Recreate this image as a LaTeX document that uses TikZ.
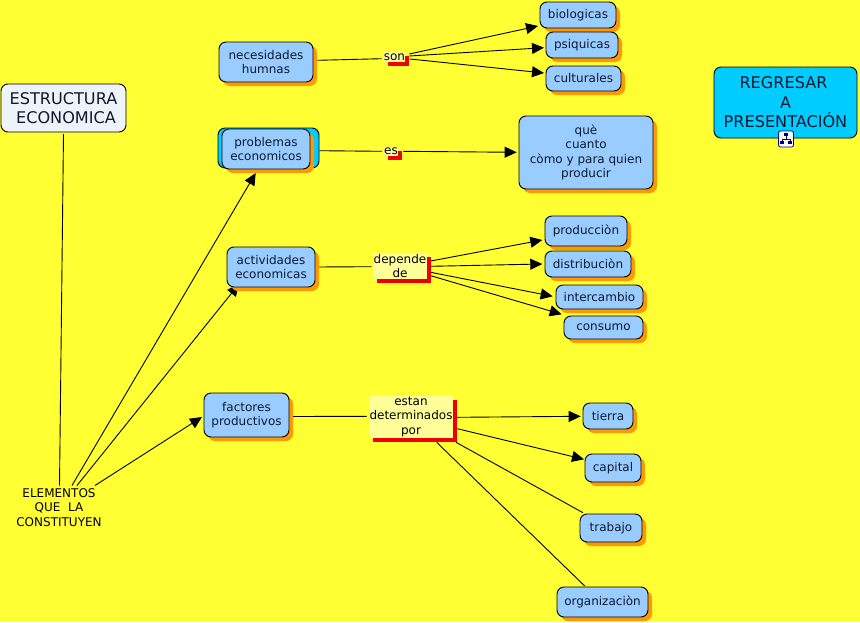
\documentclass[tikz,border=0pt]{standalone}
\usepackage{fontspec}
\setmainfont{DejaVu Sans}
\usetikzlibrary{arrows.meta,shadows}
\definecolor{bgyellow}{HTML}{FFFF33}
\definecolor{cblue}{HTML}{99CCFF}
\definecolor{corange}{HTML}{FF9900}
\definecolor{ccyan}{HTML}{00CCFF}
\definecolor{cpale}{HTML}{FFFF99}
\definecolor{cred}{HTML}{EE0000}
\definecolor{cwhite}{HTML}{EDF3F8}
\definecolor{ctext}{HTML}{101830}
\pgfdeclarelayer{bglayer}
\pgfdeclarelayer{linelayer}
\pgfsetlayers{bglayer,linelayer,main}
\tikzset{
  base/.style={align=center,inner sep=0pt,text=ctext,font=\fontsize{12}{14.5}\selectfont},
  concept/.style={base,draw=black,line width=0.9pt,fill=cblue,rounded corners=7pt,
    general shadow={shadow xshift=4pt,shadow yshift=-4pt,fill=corange,opacity=1}},
  topbox/.style={base,draw=black,line width=0.9pt,rounded corners=7pt,font=\fontsize{16.1}{19.5}\selectfont},
  phrase/.style={base,fill=cpale,text=black,
    general shadow={shadow xshift=4pt,shadow yshift=-4pt,fill=cred,opacity=1}},
  conn/.style={draw=black,line width=0.9pt},
  arr/.style={conn,-{Triangle[length=12pt,width=11pt]}}
}
\begin{document}
\begin{tikzpicture}[x=1pt,y=-1pt]
\begin{pgfonlayer}{bglayer}
\fill[bgyellow] (0,0) rectangle (860,622);
\end{pgfonlayer}
\useasboundingbox (0,0) rectangle (860,622);

\node[topbox,fill=cwhite,minimum width=125pt,minimum height=48pt] (est) at (63.5,108) {ESTRUCTURA\\\hspace*{5pt}ECONOMICA};
\node[topbox,fill=ccyan,minimum width=143pt,minimum height=71pt] (reg) at (785.5,102.5) {REGRESAR\hspace*{4pt}\\A\\PRESENTACIÓN};
\node[base,text=black] (el) at (59,507.5) {ELEMENTOS\\QUE\ \ LA\\CONSTITUYEN};

\node[draw=black,line width=0.9pt,fill=ccyan,rounded corners=7pt,minimum width=101pt,minimum height=40pt] (probback) at (268.5,148) {};
\node[concept,minimum width=88pt,minimum height=40pt] (prob) at (266,149) {problemas\\economicos};
\node[concept,minimum width=94pt,minimum height=40pt] (nec) at (266,62) {necesidades\\humnas};
\node[concept,minimum width=88pt,minimum height=40pt] (act) at (271,267) {actividades\\economicas};
\node[concept,minimum width=85pt,minimum height=44pt] (fac) at (246.5,415) {factores\\productivos};

\node[concept,minimum width=76pt,minimum height=26pt] (bio) at (578,15) {biologicas};
\node[concept,minimum width=72pt,minimum height=26pt] (psi) at (582,45) {psiquicas};
\node[concept,minimum width=75pt,minimum height=25pt] (cul) at (583.5,78.5) {culturales};
\node[concept,minimum width=134pt,minimum height=73pt] (que) at (586,152.5) {què\\cuanto\\còmo y para quien\\producir};
\node[concept,minimum width=82pt,minimum height=30pt] (pro) at (586,231) {producciòn};
\node[concept,minimum width=86pt,minimum height=26pt] (dis) at (588,264) {distribuciòn};
\node[concept,minimum width=87pt,minimum height=24pt] (int) at (599.5,297) {intercambio};
\node[concept,minimum width=79pt,minimum height=23pt] (con) at (603.5,327.5) {consumo};
\node[concept,minimum width=50pt,minimum height=26pt] (tie) at (608,416) {tierra};
\node[concept,minimum width=56pt,minimum height=28pt] (cap) at (613,468) {capital};
\node[concept,minimum width=62pt,minimum height=28pt] (tra) at (611,528) {trabajo};
\node[concept,minimum width=91pt,minimum height=30pt] (org) at (602.5,602) {organizaciòn};

\node[phrase,minimum width=21pt,minimum height=10pt] (son) at (394.5,57) {son};
\node[phrase,minimum width=14pt,minimum height=9pt] (es) at (391,151.5) {es};
\node[phrase,minimum width=54pt,minimum height=26pt] (dep) at (400,266) {depende\\de};
\node[phrase,minimum width=84pt,minimum height=42pt] (det) at (411,417) {estan\\determinados\\por};

% icon
\node[draw=blue!60!black,fill=white,rounded corners=2pt,line width=0.8pt,minimum width=15pt,minimum height=16pt,inner sep=0pt] (icon) at (786,139) {};
\fill[blue!45!black] ([shift={(-2,-6)}]icon.center) rectangle ([shift={(2,-3)}]icon.center);
\fill[blue!45!black] ([shift={(-6,2)}]icon.center) rectangle ([shift={(-2,5)}]icon.center);
\fill[blue!45!black] ([shift={(2,2)}]icon.center) rectangle ([shift={(6,5)}]icon.center);
\draw[blue!45!black,line width=0.6pt] ([shift={(0,-3)}]icon.center) -- ([shift={(0,0)}]icon.center) ([shift={(-4,2)}]icon.center) -- ([shift={(-4,0)}]icon.center) -- ([shift={(4,0)}]icon.center) -- ([shift={(4,2)}]icon.center);

\begin{pgfonlayer}{linelayer}
\draw[conn] ([shift={(0,26)}]est.center) -- ([shift={(0.5,-22)}]el.center);
\draw[arr] ([shift={(13,-22)}]el.center) -- ([shift={(-10.3,24)}]prob.center);
\draw[arr] ([shift={(18,-22)}]el.center) -- ([shift={(-32,17)}]act.center);
\draw[arr] ([shift={(36,-22)}]el.center) -- ([shift={(-44.5,2)}]fac.center);

\draw[conn] ([shift={(51.3,-1.7)}]nec.center) -- ([shift={(-12.8,1.7)}]son.center);
\draw[arr] ([shift={(14.8,-3)}]son.center) -- ([shift={(-40,11)}]bio.center);
\draw[arr] ([shift={(14.8,-1)}]son.center) -- ([shift={(-38,2.7)}]psi.center);
\draw[arr] ([shift={(15.5,2)}]son.center) -- ([shift={(-39.5,-5.5)}]cul.center);

\draw[conn] ([shift={(53.3,1.7)}]prob.center) -- ([shift={(-9.3,-0.2)}]es.center);
\draw[arr] ([shift={(12.3,-0.2)}]es.center) -- ([shift={(-69.3,-0.2)}]que.center);

\draw[conn] ([shift={(45,0)}]act.center) -- ([shift={(-28.3,0.7)}]dep.center);
\draw[arr] ([shift={(30.7,-5)}]dep.center) -- ([shift={(-43.7,9)}]pro.center);
\draw[arr] ([shift={(30.7,0.3)}]dep.center) -- ([shift={(-45.7,0)}]dis.center);
\draw[arr] ([shift={(30.7,6.3)}]dep.center) -- ([shift={(-46.8,-0.7)}]int.center);
\draw[arr] ([shift={(30.7,9.7)}]dep.center) -- ([shift={(-41.8,-13.2)}]con.center);

\draw[conn] ([shift={(46.5,1.5)}]fac.center) -- ([shift={(-44.3,-0.7)}]det.center);
\draw[arr] ([shift={(46.3,0.3)}]det.center) -- ([shift={(-27.3,0.3)}]tie.center);
\draw[arr] ([shift={(46.3,11.7)}]det.center) -- ([shift={(-29,-8.7)}]cap.center);
\draw[conn] ([shift={(45,25.3)}]det.center) -- ([shift={(-28,-15.3)}]tra.center);
\draw[conn] ([shift={(25.7,25.3)}]det.center) -- ([shift={(-17.8,-16)}]org.center);
\end{pgfonlayer}
\end{tikzpicture}
\end{document}
